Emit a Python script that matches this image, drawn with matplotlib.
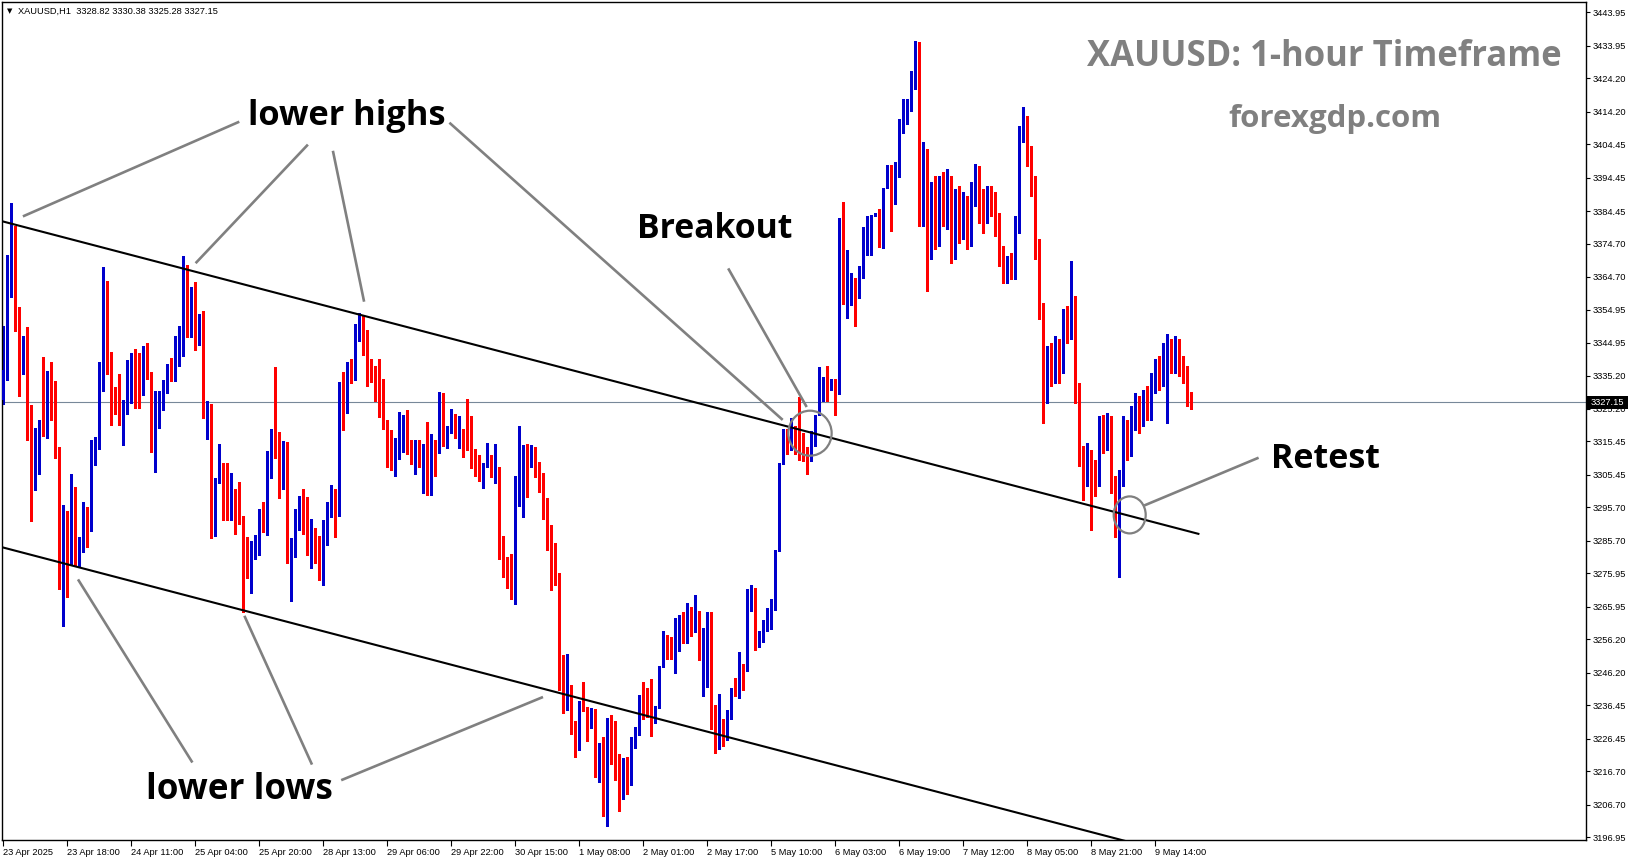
import matplotlib
matplotlib.use("Agg")
import matplotlib.pyplot as plt
from matplotlib.patches import Ellipse, Rectangle

OUT = "out.png"

# ---- XAUUSD H1 candles (23 Apr 02:00 .. 9 May 23:00) ----
opens = [
    3327.8, 3336.6, 3367.8, 3379.5, 3354.5, 3339.0, 3347.0, 3319.4, 3300.8, 3319.2,
    3321.8, 3317.3, 3330.2, 3324.8, 3310.7, 3276.8, 3287.6, 3280.4, 3295.1, 3281.0,
    3282.6, 3294.5, 3288.8, 3309.0, 3316.5, 3331.5, 3357.5, 3342.2, 3327.0, 3326.3,
    3323.6, 3324.6, 3333.5, 3336.3, 3335.8, 3329.6, 3337.1, 3336.3, 3315.0, 3327.3,
    3329.3, 3331.6, 3336.8, 3334.8, 3342.3, 3351.0, 3367.0, 3348.6, 3357.8, 3345.6,
    3348.8, 3323.6, 3325.1, 3294.0, 3303.8, 3307.3, 3304.0, 3292.0, 3298.1, 3293.5,
    3292.8, 3281.3, 3277.8, 3283.0, 3285.1, 3293.3, 3288.3, 3304.5, 3326.3, 3310.7,
    3302.5, 3314.3, 3281.0, 3281.0, 3290.5, 3299.0, 3295.2, 3283.5, 3287.3, 3282.8,
    3274.1, 3289.5, 3294.0, 3296.3, 3293.0, 3328.8, 3324.8, 3336.8, 3335.0, 3348.8,
    3352.5, 3345.0, 3338.0, 3338.0, 3329.8, 3326.3, 3320.6, 3316.1, 3308.8, 3310.1,
    3318.8, 3323.1, 3311.6, 3308.8, 3312.8, 3309.0, 3313.1, 3306.8, 3314.6, 3312.1,
    3329.0, 3314.1, 3320.1, 3320.8, 3313.6, 3319.2, 3317.4, 3313.2, 3308.1, 3306.9,
    3304.6, 3307.9, 3309.9, 3305.9, 3307.3, 3284.7, 3276.1, 3272.9, 3272.2, 3298.7,
    3309.2, 3310.2, 3307.9, 3310.7, 3305.4, 3302.1, 3295.9, 3289.6, 3274.2, 3273.4,
    3246.4, 3238.6, 3241.4, 3229.4, 3226.2, 3236.9, 3235.9, 3229.9, 3235.2, 3218.1,
    3222.9, 3205.2, 3227.0, 3223.7, 3219.5, 3216.2, 3219.7, 3214.3, 3223.7, 3228.0,
    3240.4, 3238.0, 3237.7, 3231.2, 3236.2, 3248.0, 3255.2, 3251.8, 3251.5, 3252.8,
    3259.2, 3258.2, 3265.3, 3259.3, 3263.0, 3250.3, 3250.2, 3263.0, 3231.7, 3224.8,
    3231.7, 3226.0, 3233.5, 3241.0, 3239.2, 3248.2, 3246.7, 3264.7, 3270.3, 3254.6,
    3256.6, 3259.8, 3262.3, 3265.0, 3282.7, 3308.8, 3313.7, 3313.4, 3319.5, 3316.0,
    3313.0, 3312.3, 3309.8, 3317.5, 3323.5, 3329.2, 3336.3, 3330.8, 3334.2, 3329.7,
    3380.7, 3358.7, 3360.4, 3363.4, 3362.4, 3365.2, 3371.3, 3377.1, 3383.4, 3384.0,
    3379.3, 3391.3, 3391.9, 3386.5, 3395.4, 3409.1, 3413.9, 3416.0, 3424.0, 3432.0,
    3383.0, 3401.0, 3374.0, 3390.0, 3376.0, 3392.0, 3385.0, 3393.0, 3372.0, 3388.0,
    3380.0, 3385.0, 3375.0, 3390.0, 3396.0, 3386.0, 3385.0, 3389.0, 3386.0, 3382.0,
    3372.0, 3365.0, 3368.0, 3366.0, 3380.0, 3408.0, 3410.0, 3401.0, 3393.0, 3373.0,
    3355.0, 3330.0, 3341.0, 3336.0, 3343.0, 3338.0, 3352.0, 3348.0, 3357.0, 3330.0,
    3311.0, 3308.0, 3311.0, 3305.0, 3304.0, 3320.0, 3315.0, 3321.0, 3303.0, 3291.0,
    3304.0, 3320.0, 3313.0, 3322.0, 3326.0, 3321.0, 3327.0, 3324.0, 3333.0, 3337.0,
    3334.0, 3343.0, 3344.0, 3338.0, 3345.0, 3338.0, 3337.0, 3328.82,
]
highs = [
    3350.0, 3371.3, 3386.8, 3380.0, 3355.6, 3347.0, 3349.8, 3326.3, 3319.4, 3321.8,
    3340.8, 3336.5, 3339.2, 3333.5, 3313.7, 3296.3, 3294.5, 3305.6, 3301.7, 3287.0,
    3297.2, 3295.8, 3315.8, 3316.8, 3339.2, 3367.7, 3363.5, 3342.2, 3331.8, 3335.6,
    3328.0, 3339.8, 3342.0, 3343.1, 3342.0, 3344.1, 3345.0, 3336.3, 3330.5, 3330.6,
    3333.8, 3338.6, 3340.5, 3347.0, 3350.0, 3371.0, 3368.3, 3361.8, 3363.2, 3353.6,
    3354.5, 3327.6, 3326.8, 3304.6, 3314.6, 3309.1, 3309.1, 3306.0, 3301.2, 3303.2,
    3293.0, 3287.0, 3285.6, 3287.5, 3295.3, 3297.2, 3312.5, 3319.1, 3337.8, 3318.3,
    3315.6, 3315.3, 3286.5, 3295.2, 3299.0, 3301.2, 3298.8, 3292.3, 3289.5, 3287.3,
    3291.8, 3297.2, 3302.3, 3301.3, 3333.2, 3336.2, 3339.3, 3340.2, 3350.6, 3353.8,
    3353.3, 3348.8, 3340.0, 3338.0, 3340.2, 3334.1, 3321.8, 3318.8, 3316.6, 3324.2,
    3323.5, 3324.8, 3316.0, 3315.8, 3316.0, 3314.6, 3321.3, 3317.8, 3315.8, 3330.3,
    3330.0, 3320.1, 3325.1, 3323.6, 3323.2, 3319.2, 3328.2, 3323.1, 3313.2, 3311.4,
    3308.9, 3314.9, 3311.4, 3314.7, 3307.7, 3287.1, 3280.9, 3281.7, 3305.2, 3320.1,
    3314.4, 3314.7, 3314.4, 3313.7, 3309.4, 3306.1, 3298.4, 3290.4, 3285.2, 3276.2,
    3251.4, 3251.7, 3242.4, 3231.7, 3237.7, 3243.4, 3235.9, 3235.7, 3235.4, 3225.2,
    3227.1, 3232.6, 3233.5, 3231.8, 3221.8, 3220.8, 3221.0, 3227.0, 3230.0, 3239.5,
    3243.4, 3241.7, 3244.3, 3236.2, 3248.2, 3258.7, 3257.5, 3257.0, 3262.5, 3263.5,
    3264.5, 3267.2, 3266.0, 3269.5, 3264.8, 3259.7, 3264.5, 3264.5, 3236.5, 3239.8,
    3232.5, 3235.0, 3241.5, 3244.7, 3252.5, 3248.8, 3271.3, 3272.5, 3271.5, 3258.7,
    3262.1, 3265.6, 3268.3, 3283.1, 3309.1, 3319.1, 3319.1, 3322.6, 3320.2, 3328.8,
    3318.1, 3313.9, 3318.5, 3323.5, 3337.7, 3334.9, 3338.1, 3334.2, 3334.2, 3382.3,
    3387.1, 3372.7, 3365.9, 3364.5, 3367.9, 3379.6, 3383.0, 3383.4, 3384.0, 3385.1,
    3391.3, 3398.1, 3398.1, 3399.1, 3411.9, 3418.0, 3418.0, 3426.5, 3435.5, 3435.0,
    3405.0, 3403.0, 3393.0, 3395.0, 3395.0, 3396.0, 3397.0, 3395.0, 3391.0, 3392.0,
    3390.0, 3389.0, 3393.0, 3398.5, 3398.0, 3391.0, 3392.0, 3392.0, 3390.0, 3384.0,
    3374.0, 3371.0, 3372.0, 3383.0, 3410.0, 3415.5, 3413.0, 3404.0, 3395.0, 3376.0,
    3357.0, 3344.0, 3345.0, 3347.0, 3346.0, 3355.0, 3356.0, 3369.5, 3359.0, 3333.0,
    3314.0, 3315.0, 3313.0, 3310.0, 3323.0, 3323.5, 3324.0, 3323.0, 3305.0, 3307.0,
    3323.0, 3322.0, 3326.0, 3330.0, 3329.0, 3331.0, 3332.0, 3336.0, 3340.0, 3341.0,
    3345.0, 3347.5, 3346.0, 3347.0, 3346.0, 3341.0, 3338.0, 3330.38,
]
lows = [
    3326.8, 3334.0, 3358.8, 3348.6, 3329.0, 3335.6, 3315.8, 3291.6, 3300.8, 3305.6,
    3317.0, 3316.5, 3321.8, 3310.5, 3271.2, 3260.1, 3268.8, 3278.6, 3278.3, 3278.3,
    3282.3, 3283.8, 3288.8, 3308.3, 3313.3, 3330.5, 3335.8, 3320.3, 3323.6, 3320.3,
    3314.3, 3323.6, 3327.0, 3325.6, 3325.6, 3329.3, 3334.3, 3312.3, 3306.3, 3319.5,
    3325.0, 3330.0, 3333.6, 3333.6, 3338.0, 3341.0, 3346.8, 3346.8, 3342.8, 3344.3,
    3322.5, 3316.1, 3286.5, 3287.3, 3303.0, 3292.0, 3292.0, 3292.0, 3287.8, 3290.8,
    3264.5, 3274.6, 3270.1, 3280.3, 3281.6, 3288.3, 3287.6, 3304.5, 3310.5, 3298.5,
    3301.3, 3279.1, 3267.8, 3280.8, 3289.0, 3287.8, 3281.6, 3277.5, 3279.0, 3274.1,
    3272.6, 3284.6, 3292.8, 3286.8, 3293.0, 3318.8, 3324.1, 3333.0, 3333.8, 3345.5,
    3341.3, 3332.0, 3333.3, 3327.6, 3322.8, 3319.3, 3307.8, 3306.8, 3305.1, 3310.1,
    3312.3, 3311.6, 3308.8, 3305.8, 3307.8, 3300.1, 3299.3, 3299.3, 3305.1, 3312.1,
    3314.1, 3313.6, 3318.1, 3316.5, 3313.6, 3310.9, 3312.9, 3307.4, 3305.2, 3303.7,
    3301.4, 3307.7, 3304.9, 3303.1, 3280.4, 3274.9, 3271.7, 3268.4, 3266.9, 3296.2,
    3292.9, 3298.9, 3307.9, 3304.9, 3300.4, 3292.1, 3282.9, 3271.1, 3272.6, 3240.9,
    3234.1, 3235.1, 3227.9, 3220.9, 3223.2, 3234.9, 3225.7, 3229.6, 3214.9, 3213.4,
    3203.2, 3200.2, 3218.8, 3214.0, 3204.8, 3208.5, 3209.8, 3212.5, 3223.7, 3227.7,
    3232.5, 3233.0, 3227.3, 3231.2, 3235.7, 3248.0, 3250.3, 3250.3, 3246.2, 3252.8,
    3255.2, 3255.2, 3257.3, 3258.3, 3250.0, 3239.2, 3242.0, 3229.5, 3222.2, 3223.5,
    3224.2, 3226.0, 3232.3, 3239.2, 3238.7, 3241.0, 3246.7, 3264.7, 3253.0, 3253.9,
    3255.3, 3258.7, 3259.4, 3265.0, 3282.7, 3308.8, 3311.6, 3313.0, 3311.6, 3309.8,
    3309.5, 3305.6, 3309.5, 3314.1, 3323.5, 3327.7, 3327.7, 3330.8, 3323.5, 3329.7,
    3356.5, 3352.4, 3356.2, 3350.1, 3358.3, 3364.5, 3371.3, 3371.3, 3383.0, 3373.8,
    3373.4, 3391.3, 3378.5, 3386.5, 3394.7, 3407.7, 3410.5, 3414.5, 3421.0, 3380.0,
    3380.0, 3360.5, 3370.0, 3373.0, 3374.0, 3380.0, 3379.0, 3369.0, 3370.0, 3375.0,
    3376.0, 3373.0, 3374.0, 3386.0, 3381.0, 3378.0, 3381.0, 3383.0, 3377.0, 3368.0,
    3363.0, 3363.0, 3364.0, 3364.0, 3378.0, 3405.0, 3398.0, 3389.0, 3370.0, 3352.0,
    3321.0, 3327.0, 3332.0, 3333.0, 3333.0, 3336.0, 3345.0, 3346.0, 3327.0, 3308.0,
    3298.0, 3302.0, 3289.0, 3299.0, 3302.0, 3312.0, 3313.0, 3300.0, 3287.0, 3275.0,
    3302.0, 3310.0, 3311.0, 3319.0, 3318.0, 3320.0, 3322.0, 3322.0, 3330.0, 3331.0,
    3332.0, 3321.0, 3336.0, 3336.0, 3335.0, 3333.0, 3326.0, 3325.28,
]
closes = [
    3336.8, 3368.0, 3379.5, 3354.0, 3339.0, 3347.0, 3319.2, 3300.6, 3319.4, 3321.8,
    3317.6, 3330.0, 3324.6, 3310.5, 3276.8, 3287.6, 3280.2, 3295.1, 3281.0, 3282.8,
    3294.0, 3288.0, 3309.2, 3316.5, 3331.8, 3357.5, 3342.0, 3327.0, 3326.0, 3323.6,
    3324.8, 3334.1, 3336.3, 3335.6, 3329.6, 3337.1, 3335.6, 3315.3, 3327.5, 3329.6,
    3331.8, 3336.8, 3334.8, 3342.5, 3348.8, 3367.8, 3348.6, 3358.1, 3345.6, 3349.1,
    3323.3, 3324.8, 3294.3, 3304.6, 3307.3, 3303.8, 3292.0, 3298.1, 3293.3, 3292.5,
    3280.5, 3277.8, 3283.0, 3285.1, 3293.3, 3288.3, 3305.0, 3318.8, 3310.5, 3302.5,
    3314.3, 3280.5, 3281.0, 3290.8, 3299.0, 3294.8, 3283.1, 3287.6, 3282.6, 3274.1,
    3289.6, 3294.2, 3296.0, 3293.0, 3328.8, 3324.8, 3336.8, 3335.3, 3349.1, 3352.5,
    3343.8, 3337.8, 3337.3, 3329.6, 3326.3, 3320.3, 3315.8, 3309.1, 3310.3, 3318.8,
    3323.1, 3311.6, 3308.8, 3312.8, 3309.1, 3313.1, 3306.8, 3314.6, 3312.3, 3329.0,
    3314.1, 3320.1, 3320.8, 3317.1, 3319.2, 3317.2, 3313.2, 3307.9, 3306.7, 3304.6,
    3308.1, 3309.9, 3305.9, 3307.1, 3284.6, 3275.9, 3272.7, 3272.4, 3298.9, 3309.4,
    3310.2, 3307.9, 3311.1, 3305.2, 3301.7, 3295.9, 3288.1, 3273.9, 3272.6, 3246.4,
    3238.6, 3241.4, 3229.2, 3226.2, 3236.9, 3235.6, 3229.9, 3235.2, 3218.1, 3222.9,
    3205.2, 3226.9, 3225.0, 3218.8, 3216.2, 3219.7, 3214.3, 3224.0, 3228.2, 3238.0,
    3237.8, 3237.2, 3231.2, 3236.2, 3248.2, 3255.2, 3251.8, 3251.5, 3253.0, 3259.0,
    3258.2, 3265.3, 3259.3, 3263.0, 3250.3, 3250.7, 3263.0, 3231.5, 3224.8, 3231.5,
    3226.0, 3233.5, 3240.5, 3239.2, 3248.2, 3246.5, 3264.7, 3270.3, 3254.5, 3256.6,
    3260.0, 3262.6, 3265.3, 3283.1, 3309.1, 3313.7, 3313.0, 3319.1, 3316.0, 3312.6,
    3311.6, 3309.8, 3317.5, 3323.5, 3329.2, 3334.2, 3330.8, 3334.2, 3329.4, 3379.9,
    3358.7, 3360.6, 3363.4, 3362.4, 3365.2, 3371.3, 3377.5, 3383.4, 3384.0, 3379.3,
    3391.3, 3392.0, 3386.5, 3395.4, 3409.1, 3413.9, 3416.0, 3424.0, 3432.0, 3383.0,
    3401.0, 3374.0, 3390.0, 3376.0, 3392.0, 3385.0, 3393.0, 3372.0, 3388.0, 3380.0,
    3385.0, 3375.0, 3390.0, 3396.0, 3386.0, 3385.0, 3389.0, 3386.0, 3382.0, 3372.0,
    3365.0, 3368.0, 3366.0, 3380.0, 3408.0, 3410.0, 3401.0, 3393.0, 3373.0, 3355.0,
    3330.0, 3341.0, 3336.0, 3343.0, 3338.0, 3352.0, 3348.0, 3357.0, 3330.0, 3311.0,
    3308.0, 3311.0, 3305.0, 3304.0, 3320.0, 3315.0, 3321.0, 3303.0, 3291.0, 3304.0,
    3320.0, 3313.0, 3322.0, 3326.0, 3321.0, 3327.0, 3324.0, 3333.0, 3337.0, 3334.0,
    3343.0, 3344.0, 3338.0, 3345.0, 3338.0, 3337.0, 3328.8, 3327.15,
]

x_tick_bars = [0, 16, 32, 48, 64, 80, 96, 112, 128, 144,
               160, 176, 192, 208, 224, 240, 256, 272, 288]
x_tick_labels = ["23 Apr 2025", "23 Apr 18:00", "24 Apr 11:00", "25 Apr 04:00",
                 "25 Apr 20:00", "28 Apr 13:00", "29 Apr 06:00", "29 Apr 22:00",
                 "30 Apr 15:00", "1 May 08:00", "2 May 01:00", "2 May 17:00",
                 "5 May 10:00", "6 May 03:00", "6 May 19:00", "7 May 12:00",
                 "8 May 05:00", "8 May 21:00", "9 May 14:00"]
y_ticks = [3443.95, 3433.95, 3424.20, 3414.20, 3404.45, 3394.45, 3384.45,
           3374.70, 3364.70, 3354.95, 3344.95, 3335.20, 3325.20, 3315.45,
           3305.45, 3295.70, 3285.70, 3275.95, 3265.95, 3256.20, 3246.20,
           3236.45, 3226.45, 3216.70, 3206.70, 3196.95]
last_price = 3327.15
header = "XAUUSD,H1  3328.82 3330.38 3325.28 3327.15"

# ---- screen geometry (pixels) --------------------------------------------
W, H = 1631, 861
AX_L, AX_R, AX_T, AX_B = 2.5, 1585.7, 2.0, 840.0
X0, BAR_PX = 3.3, 4.0             # pixel x of first bar, pixels per bar
P_REF, Y_REF, PX_USD = 3443.95, 12.3, 3.34

BULL, BEAR = "#0000cc", "#ff0000"
GREY = "#808080"


def px_x(X):
    return (X - X0) / BAR_PX


def px_p(Y):
    return P_REF - (Y - Y_REF) / PX_USD


def fit_text(ax, r, x, y, s, width, **kw):
    t = ax.text(x, y, s, fontsize=20, **kw)
    w = t.get_window_extent(r).width
    t.set_fontsize(20 * width / w)
    return t


def build():
    plt.rcParams["font.family"] = ["Liberation Sans", "DejaVu Sans"]
    fig = plt.figure(figsize=(W / 100, H / 100), dpi=100)
    fig.patch.set_facecolor("white")

    ax = fig.add_axes([AX_L / W, (H - AX_B) / H,
                       (AX_R - AX_L) / W, (AX_B - AX_T) / H])
    ax.set_xlim(px_x(AX_L), px_x(AX_R))
    ax.set_ylim(px_p(AX_B), px_p(AX_T))

    n = len(closes)
    xs = list(range(n))
    cols = [BULL if c >= o else BEAR for o, c in zip(opens, closes)]
    bottoms = [min(o, c) for o, c in zip(opens, closes)]
    heights = [max(abs(c - o), 0.35) for o, c in zip(opens, closes)]

    # current price line
    ax.axhline(last_price, color="#778899", lw=0.8, zorder=1)

    ax.vlines(xs, lows, highs, colors=cols, lw=1.0, antialiased=False, zorder=2)
    ax.bar(xs, heights, bottom=bottoms, width=0.8, color=cols,
           linewidth=0, antialiased=False, zorder=3)

    # channel trend lines (pixel anchors -> data)
    ax.plot([px_x(0), px_x(1199.4)], [px_p(220.7), px_p(220.7 + 0.2613 * 1199.4)],
            color="black", lw=1.5, zorder=4, solid_capstyle="butt")
    ax.plot([px_x(0), px_x(1200)], [px_p(546.7), px_p(546.7 + 0.2615 * 1200)],
            color="black", lw=1.5, zorder=4, solid_capstyle="butt")

    # axes styling, MT4 look
    for sp in ax.spines.values():
        sp.set_color("black")
        sp.set_linewidth(1.0)
    ax.yaxis.tick_right()
    ax.set_yticks(y_ticks, labels=[f"{v:.2f}" for v in y_ticks])
    ax.set_xticks(x_tick_bars, labels=x_tick_labels)
    for lab in ax.get_xticklabels():
        lab.set_horizontalalignment("left")
    ax.tick_params(axis="y", length=3, width=0.8, pad=2, labelsize=6.7)
    ax.tick_params(axis="x", length=4, width=0.8, pad=2, labelsize=6.7)

    # ---- overlay in pixel coordinates for the hand-drawn annotations -----
    ov = fig.add_axes([0, 0, 1, 1], zorder=5)
    ov.set_xlim(0, W)
    ov.set_ylim(H, 0)
    ov.axis("off")
    ov.patch.set_visible(False)

    pointers = [
        ((239.3, 121.7), (22.9, 216.4)),
        ((307.9, 144.6), (195.6, 263.2)),
        ((332.9, 150.8), (364.1, 301.7)),
        ((449.4, 122.7), (782.7, 419.9)),
        ((728.2, 268.4), (806.7, 407.0)),
        ((1144.2, 505.5), (1258.6, 457.7)),
        ((192.4, 762.5), (78.0, 579.4)),
        ((312.0, 764.6), (244.4, 615.8)),
        ((341.2, 780.2), (543.0, 697.0)),
    ]
    for (xa, ya), (xb, yb) in pointers:
        ov.plot([xa, xb], [ya, yb], color=GREY, lw=1.9, solid_capstyle="butt")

    ov.add_patch(Ellipse((810.0, 433.2), 43.3, 45.0, facecolor="none",
                         edgecolor=GREY, lw=1.6))
    ov.add_patch(Ellipse((1129.7, 514.9), 32.0, 37.0, facecolor="none",
                         edgecolor=GREY, lw=1.6))

    r = fig.canvas.get_renderer()
    bold = dict(family=["Open Sans", "DejaVu Sans"], fontweight="bold",
                ha="center", va="baseline")
    fit_text(ov, r, 346.4, 124.8, "lower highs", 197.6, color="black", **bold)
    fit_text(ov, r, 714.6, 238.2, "Breakout", 156.0, color="black", **bold)
    fit_text(ov, r, 1325.7, 468.0, "Retest", 109.0, color="black", **bold)
    fit_text(ov, r, 239.8, 798.9, "lower lows", 186.0, color="black", **bold)
    fit_text(ov, r, 1324.7, 66.0, "XAUUSD: 1-hour Timeframe", 475.0,
             color=GREY, **bold)
    fit_text(ov, r, 1335.0, 127.0, "forexgdp.com", 213.0, color=GREY, **bold)

    # header line of the MT4 chart window
    ov.text(9.5, 11.0, "\u25bc", fontsize=5, ha="center", va="center",
            family="DejaVu Sans")
    ov.text(18.3, 11.0, header, fontsize=6.7, ha="left", va="center")

    # last-price tag on the price scale
    ov.add_patch(Rectangle((1586.0, 396.0), 42.0, 12.5, facecolor="black",
                           edgecolor="none"))
    ov.text(1607.0, 402.3, f"{last_price:.2f}", fontsize=6.7, color="white",
            ha="center", va="center")

    fig.savefig(OUT, dpi=100, facecolor="white")
    plt.close(fig)


if __name__ == "__main__":
    build()
